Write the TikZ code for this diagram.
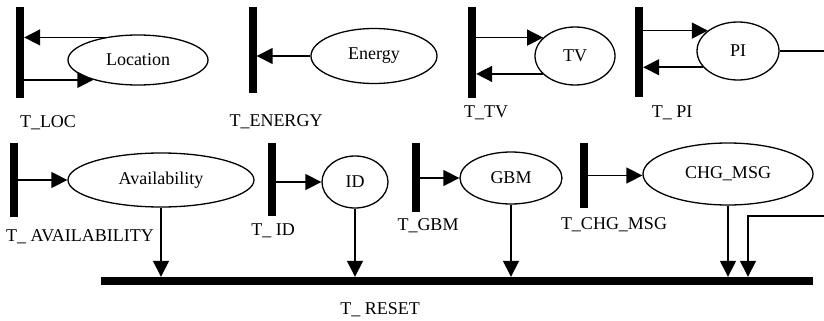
\documentclass[tikz,border=0pt]{standalone}
\usepackage{fontspec}
\setmainfont{Liberation Serif}
\usetikzlibrary{arrows.meta,shapes.geometric}
\begin{document}
\begin{tikzpicture}[x=1pt,y=-1pt,
  tbar/.style={fill=black,draw=none,inner sep=0pt,minimum width=8pt},
  place/.style={ellipse,draw,line width=1.3pt,inner sep=0pt,font=\fontsize{18}{20}\selectfont},
  lbl/.style={inner sep=0pt,font=\fontsize{18}{20}\selectfont},
  arr/.style={line width=1.5pt,-{Triangle[length=16pt,width=16pt]}},
  ln/.style={line width=1.5pt}]
\useasboundingbox (0,0) rectangle (824,321);
% transitions (bars)
\node[tbar,minimum height=91pt] (tloc) at (20,52.5) {};
\node[tbar,minimum height=86pt] (ten) at (252.5,50) {};
\node[tbar,minimum height=91pt] (ttv) at (472,52.5) {};
\node[tbar,minimum height=90pt] (tpi) at (639,52) {};
\node[tbar,minimum height=74pt] (tav) at (14,180) {};
\node[tbar,minimum height=73pt] (tid) at (272,179.5) {};
\node[tbar,minimum height=69pt] (tgbm) at (416,177.5) {};
\node[tbar,minimum height=65pt] (tchg) at (584,175.5) {};
\node[fill=black,inner sep=0pt,minimum width=712pt,minimum height=8pt] (treset) at (457,281) {};
% places
\node[place,minimum width=140pt,minimum height=50pt] (locE) at (138,60) {Location};
\node[place,minimum width=126pt,minimum height=55pt] (enE) at (374,56) {Energy};
\node[place,minimum width=80pt,minimum height=58pt] (tvE) at (575,56) {TV};
\node[place,minimum width=82pt,minimum height=58pt] (piE) at (738,51) {PI};
\node[place,minimum width=186pt,minimum height=54pt] (avE) at (161,180) {Availability};
\node[place,minimum width=66pt,minimum height=52pt] (idE) at (355,182) {ID};
\node[place,minimum width=102pt,minimum height=52pt] (gbmE) at (511,178) {GBM};
\node[place,minimum width=170pt,minimum height=62pt] (chgE) at (728,174) {CHG\_MSG};
% labels
\node[lbl] (lloc) at (48,123) {T\_LOC};
\node[lbl] (len) at (276,122) {T\_ENERGY};
\node[lbl] (ltv) at (486,113) {T\_TV};
\node[lbl] (lpi) at (672,113) {T\_ PI};
\node[lbl] (lav) at (80,237) {T\_ AVAILABILITY};
\node[lbl] (lid) at (273,231) {T\_ ID};
\node[lbl] (lgbm) at (428,226) {T\_GBM};
\node[lbl] (lchg) at (614,225) {T\_CHG\_MSG};
\node[lbl] (lreset) at (380,310) {T\_ RESET};
% free ends
\coordinate (edgeA) at (824,51);
\coordinate (edgeB) at (824,216);
\coordinate (ret) at (748,216);
% arcs
\draw[arr] (locE.146) -- (locE.146 -| tloc.east);
\draw[arr] (locE.204 -| tloc.east) -- (locE.204);
\draw[arr] (enE.west) -- (enE.west -| ten.east);
\draw[arr] (tvE.150 -| ttv.east) -- (tvE.150);
\draw[arr] (tvE.209) -- (tvE.209 -| ttv.east);
\draw[arr] (piE.146 -| tpi.east) -- (piE.146);
\draw[arr] (piE.205) -- (piE.205 -| tpi.east);
\draw[ln] (piE.east) -- (edgeA);
\draw[arr] (tav.east |- avE.west) -- (avE.west);
\draw[arr] (tid.east |- idE.180) -- (idE.180);
\draw[arr] (tgbm.east |- gbmE.west) -- (gbmE.west);
\draw[arr] (tchg.east |- tchg.center) -- (tchg.center -| chgE.west);
\draw[arr] (avE.south) -- (avE.south |- treset.north);
\draw[arr] (idE.south) -- (idE.south |- treset.north);
\draw[arr] (gbmE.south) -- (gbmE.south |- treset.north);
\draw[arr] (chgE.south) -- (chgE.south |- treset.north);
\draw[arr] (edgeB) -- (ret) -- (ret |- treset.north);
\end{tikzpicture}
\end{document}
